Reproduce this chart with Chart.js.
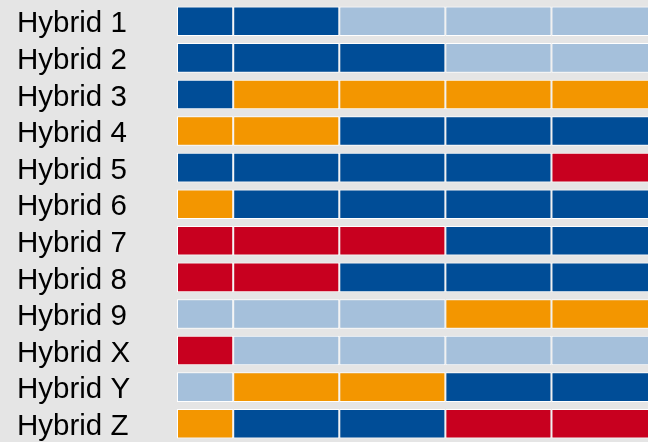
<!DOCTYPE html>
<html>
<head>
<meta charset="utf-8">
<script src="https://cdn.jsdelivr.net/npm/chart.js@4/dist/chart.umd.min.js"></script>
<style>
  html, body { margin: 0; padding: 0; background: #e5e5e5; }
  #wrap { width: 648px; height: 442px; }
</style>
</head>
<body>
<div id="wrap"><canvas id="chart" width="648" height="442"></canvas></div>
<script>
const hybrids = ['Hybrid 1', 'Hybrid 2', 'Hybrid 3', 'Hybrid 4', 'Hybrid 5', 'Hybrid 6',
                 'Hybrid 7', 'Hybrid 8', 'Hybrid 9', 'Hybrid X', 'Hybrid Y', 'Hybrid Z'];

// width of each column of cells (first column is narrower)
const columnWidths = [0.53, 1, 1, 1, 1];

// colour group of each cell, one string per hybrid, one letter per column
// D = dark blue, L = light blue, O = orange, R = red
const cellGroups = [
  'DDLLL', 'DDDLL', 'DOOOO', 'OODDD', 'DDDDR', 'ODDDD',
  'RRRDD', 'RRDDD', 'LLLOO', 'RLLLL', 'LOODD', 'ODDRR'
];

const palette = {
  D: '#004d97',
  L: '#a5c0db',
  O: '#f39600',
  R: '#c8001f'
};

const datasets = columnWidths.map((w, col) => ({
  label: 'col ' + (col + 1),
  data: hybrids.map(() => w),
  backgroundColor: cellGroups.map(g => palette[g[col]]),
  borderColor: '#ffffff',
  borderWidth: 1,
  borderSkipped: false,
  categoryPercentage: 1,
  barPercentage: 0.81
}));

const ctx = document.getElementById('chart').getContext('2d');
new Chart(ctx, {
  type: 'bar',
  data: { labels: hybrids, datasets: datasets },
  options: {
    indexAxis: 'y',
    responsive: false,
    animation: false,
    layout: { padding: { left: 17, top: 3, right: 0, bottom: 0 } },
    plugins: {
      legend: { display: false },
      tooltip: { enabled: false }
    },
    scales: {
      x: {
        stacked: true,
        display: false,
        min: 0,
        max: 4.44
      },
      y: {
        stacked: true,
        grid: { display: false, drawTicks: false },
        border: { display: false },
        ticks: {
          autoSkip: false,
          crossAlign: 'far',
          padding: 0,
          labelOffset: 3,
          color: '#000000',
          font: { family: 'Liberation Sans, Arial, sans-serif', size: 29.5 }
        },
        afterFit: (scale) => {
          scale.width = 160;
          // labels may overhang; keep the bars filling the full height
          scale.paddingTop = 0;
          scale.paddingBottom = 0;
        }
      }
    }
  }
});
</script>
</body>
</html>
